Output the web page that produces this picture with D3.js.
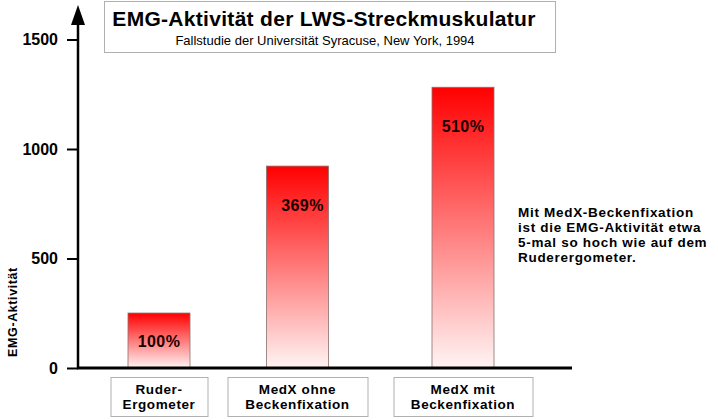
<!DOCTYPE html>
<html><head><meta charset="utf-8">
<script src="https://cdn.jsdelivr.net/npm/d3@7"></script>
<style>body{margin:0;background:#fff}svg{display:block;font-family:"Liberation Sans",Arial,sans-serif}</style>
</head><body><svg id="c" width="718" height="420"></svg>
<script>
const categories = [["Ruder-","Ergometer"],["MedX ohne","Beckenfixation"],["MedX mit","Beckenfixation"]];
const values = [251, 922, 1282];
const percentLabels = ["100%","369%","510%"];
const yTicks = [0,500,1000,1500];
const title = "EMG-Aktivität der LWS-Streckmuskulatur";
const subtitle = "Fallstudie der Universität Syracuse, New York, 1994";
const yLabel = "EMG-Aktivität";
const note = ["Mit MedX-Beckenfixation","ist die EMG-Aktivität etwa","5-mal so hoch wie auf dem","Ruderergometer."];

const svg = d3.select("#c");
const x0 = 78, y0 = 368;
const y = d3.scaleLinear().domain([0,1500]).range([y0, 39.5]);
const xCenters = d3.scaleOrdinal().domain(d3.range(3)).range([159, 297.5, 463]);
const barW = 62;
const boxW = [97,140,139];

const defs = svg.append("defs");
const g = defs.append("linearGradient").attr("id","grad").attr("x1",0).attr("y1",0).attr("x2",0).attr("y2",1);
g.append("stop").attr("offset","0%").attr("stop-color","#ff0000");
g.append("stop").attr("offset","100%").attr("stop-color","#fff4f4");

// title box
svg.append("rect").attr("x",104.5).attr("y",1.5).attr("width",451).attr("height",51).attr("fill","#fff").attr("stroke","#b0b0b0");
svg.append("text").attr("x",324).attr("y",26).attr("text-anchor","middle").attr("font-weight","bold").attr("font-size",21).attr("letter-spacing",0.3).text(title);
svg.append("text").attr("x",325).attr("y",45).attr("text-anchor","middle").attr("font-size",13).text(subtitle);

// bars
const bars = svg.selectAll(".bar").data(values).join("g");
bars.append("rect")
  .attr("x",(d,i)=>xCenters(i)-barW/2).attr("y",d=>y(d))
  .attr("width",barW).attr("height",d=>y0-y(d))
  .attr("fill","url(#grad)").attr("stroke","#8a7070").attr("stroke-width",0.8);
bars.append("text")
  .attr("x",(d,i)=>xCenters(i)+ (i===1?5:0))
  .attr("y",d=>y(d)+Math.min(39,(y0-y(d))/2)+6)
  .attr("text-anchor","middle").attr("font-weight","bold").attr("font-size",16).attr("letter-spacing",0.4).attr("fill","#1a0000")
  .text((d,i)=>percentLabels[i]);

// y axis
const axis = d3.axisLeft(y).tickValues(yTicks).tickFormat(d3.format("d")).tickSize(11).tickPadding(9);
const ag = svg.append("g").attr("transform",`translate(${x0},0)`).call(axis);
ag.select(".domain").remove();
ag.selectAll(".tick line").attr("stroke","#000").attr("stroke-width",2);
ag.selectAll(".tick text").attr("font-weight","bold").attr("font-size",16).attr("fill","#000").attr("font-family","Liberation Sans, Arial, sans-serif");
svg.append("line").attr("x1",x0).attr("x2",x0).attr("y1",y0+1).attr("y2",20).attr("stroke","#000").attr("stroke-width",2.5);
svg.append("path").attr("d",`M${x0-7},25 L${x0},5 L${x0+7},25 Z`).attr("fill","#000");
svg.append("line").attr("x1",x0-1).attr("x2",572).attr("y1",y0).attr("y2",y0).attr("stroke","#000").attr("stroke-width",3);

// y label
svg.append("text").attr("transform","translate(16.5,312) rotate(-90)").attr("text-anchor","middle")
  .attr("font-weight","bold").attr("font-size",12.5).attr("letter-spacing",0.6).text(yLabel);

// category boxes
const cb = svg.selectAll(".cat").data(categories).join("g");
cb.append("rect").attr("x",(d,i)=>xCenters(i)-boxW[i]/2+0.5).attr("y",377.5).attr("width",(d,i)=>boxW[i]).attr("height",39)
  .attr("fill","#fff").attr("stroke","#b0b0b0");
cb.each(function(d,i){
  const s = d3.select(this);
  d.forEach((line,j)=>s.append("text").attr("x",xCenters(i)).attr("y",394+j*15).attr("text-anchor","middle")
    .attr("font-weight","bold").attr("font-size",13.5).attr("letter-spacing",0.6).text(line));
});

// note
note.forEach((line,j)=>svg.append("text").attr("x",518).attr("y",216.5+j*15).attr("font-weight","bold").attr("font-size",13.5).attr("letter-spacing",0.7).text(line));
</script></body></html>
